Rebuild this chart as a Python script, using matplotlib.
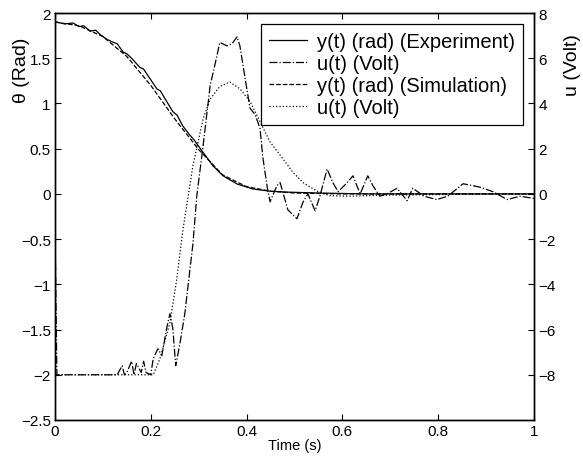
import matplotlib
matplotlib.use("Agg")
import matplotlib.pyplot as plt

plt.rcParams['font.family'] = ['Liberation Sans', 'DejaVu Sans']

# y(t) experiment (rad)
t_yexp = [0.0, 0.004, 0.02, 0.038, 0.05, 0.06, 0.073, 0.085, 0.095, 0.108, 0.12, 0.13,
          0.142, 0.15, 0.16, 0.177, 0.185, 0.195, 0.213, 0.22, 0.23, 0.246, 0.255, 0.267,
          0.28, 0.29, 0.309, 0.33, 0.351, 0.38, 0.413, 0.449, 0.484, 0.55, 0.65, 0.8, 1.0]
y_exp = [1.90, 1.90, 1.88, 1.89, 1.85, 1.86, 1.80, 1.81, 1.76, 1.71, 1.68, 1.66,
         1.57, 1.55, 1.50, 1.40, 1.38, 1.30, 1.16, 1.14, 1.05, 0.91, 0.87, 0.75,
         0.66, 0.60, 0.46, 0.31, 0.20, 0.11, 0.055, 0.03, 0.02, 0.01, 0.0, 0.0, 0.0]

# y(t) simulation (rad)
t_ysim = [0.0, 0.05, 0.1, 0.15, 0.2, 0.25, 0.3, 0.35, 0.4, 0.45, 0.5, 0.6, 0.8, 1.0]
y_sim = [1.90, 1.86, 1.74, 1.52, 1.20, 0.83, 0.49, 0.21, 0.08, 0.03, 0.01, 0.0, 0.0, 0.0]

# u(t) experiment (Volt)
t_uexp = [0.0, 0.004, 0.13, 0.14, 0.145, 0.15, 0.16, 0.165, 0.17, 0.18, 0.185, 0.19,
          0.2, 0.205, 0.209, 0.215, 0.223, 0.234, 0.24, 0.246, 0.252, 0.261, 0.271,
          0.288, 0.296, 0.309, 0.324, 0.338, 0.344, 0.359, 0.37, 0.38, 0.386, 0.397,
          0.407, 0.418, 0.428, 0.434, 0.443, 0.449, 0.463, 0.47, 0.486, 0.505, 0.518,
          0.528, 0.543, 0.553, 0.568, 0.58, 0.591, 0.61, 0.622, 0.637, 0.653, 0.664,
          0.678, 0.693, 0.714, 0.735, 0.747, 0.77, 0.797, 0.82, 0.852, 0.887, 0.914,
          0.944, 0.971, 1.0]
u_exp = [-1.3, -8.0, -8.0, -7.6, -8.0, -7.9, -7.4, -8.0, -7.5, -7.9, -7.4, -7.9,
         -8.0, -7.3, -7.1, -6.85, -7.15, -5.85, -5.3, -5.95, -7.6, -6.6, -5.3,
         -2.2, -0.1, 2.1, 4.8, 6.1, 6.7, 6.55, 6.65, 6.95, 6.55, 5.1,
         3.8, 3.5, 2.9, 1.6, 0.3, -0.35, 0.35, 0.5, -0.7, -1.1, -0.35,
         0.0, -0.75, -0.1, 1.1, 0.5, 0.1, 0.5, 0.8, 0.0, 0.8, 0.35,
         -0.1, 0.0, 0.25, -0.3, 0.25, -0.1, -0.25, -0.1, 0.45, 0.3, 0.1,
         -0.25, -0.1, -0.2]

# u(t) simulation (Volt)
t_usim = [0.0, 0.205, 0.219, 0.24, 0.254, 0.267, 0.288, 0.309, 0.324, 0.344, 0.365,
          0.386, 0.407, 0.428, 0.449, 0.476, 0.497, 0.518, 0.547, 0.574, 0.616, 0.7, 0.85, 1.0]
u_sim = [-8.0, -8.0, -7.3, -5.7, -3.8, -1.6, 1.25, 3.3, 4.2, 4.75, 4.95,
         4.65, 4.1, 3.2, 2.3, 1.55, 0.95, 0.5, 0.12, -0.08, -0.1, -0.05, -0.02, 0.0]

labels = ['y(t) (rad) (Experiment)', 'u(t) (Volt)', 'y(t) (rad) (Simulation)', 'u(t) (Volt)']

fig = plt.figure(figsize=(5.83, 4.64), dpi=100)
ax = fig.add_axes([0.0943, 0.0927, 0.8217, 0.877])
ax2 = ax.twinx()

l1, = ax.plot(t_yexp, y_exp, color='black', linestyle='-', linewidth=0.9)
l3, = ax.plot(t_ysim, y_sim, color='black', linestyle='--', linewidth=0.9)
l2, = ax2.plot(t_uexp, u_exp, color='black', linestyle='-.', linewidth=0.9)
l4, = ax2.plot(t_usim, u_sim, color='black', linestyle=':', linewidth=0.9)

ax.set_xlim(0, 1)
ax.set_ylim(-2.5, 2)
ax2.set_ylim(-10, 8)
ax.set_xticks([0, 0.2, 0.4, 0.6, 0.8, 1])
ax.set_xticklabels(['0', '0.2', '0.4', '0.6', '0.8', '1'])
ax.set_yticks([-2.5, -2, -1.5, -1, -0.5, 0, 0.5, 1, 1.5, 2])
ax.set_yticklabels(['\u22122.5', '\u22122', '\u22121.5', '\u22121', '\u22120.5', '0', '0.5', '1', '1.5', '2'])
ax2.set_yticks([-8, -6, -4, -2, 0, 2, 4, 6, 8])
ax2.set_yticklabels(['\u22128', '\u22126', '\u22124', '\u22122', '0', '2', '4', '6', '8'])

ax.tick_params(direction='in', top=True, right=False, labelsize=11, length=4, pad=3)
ax2.tick_params(direction='in', labelsize=11, length=4, pad=3)
for a in (ax, ax2):
    for s in a.spines.values():
        s.set_linewidth(1.0)

ax.set_xlabel('Time (s)', fontsize=10.5, labelpad=0)
ax.set_ylabel('\u03b8 (Rad)', fontsize=14, labelpad=1)
ax.yaxis.set_label_coords(-0.052, 0.862)
ax2.set_ylabel('u (Volt)', fontsize=14, labelpad=5)
ax2.yaxis.set_label_coords(1.063, 0.875)

leg = ax2.legend([l1, l2, l3, l4], labels, loc='upper right', fontsize=14.5,
                 handlelength=1.9, borderaxespad=0.55, fancybox=False,
                 edgecolor='black', framealpha=1, borderpad=0.4,
                 labelspacing=0.15, handletextpad=0.5)
leg.get_frame().set_linewidth(0.9)

fig.savefig('out.png', dpi=100)
